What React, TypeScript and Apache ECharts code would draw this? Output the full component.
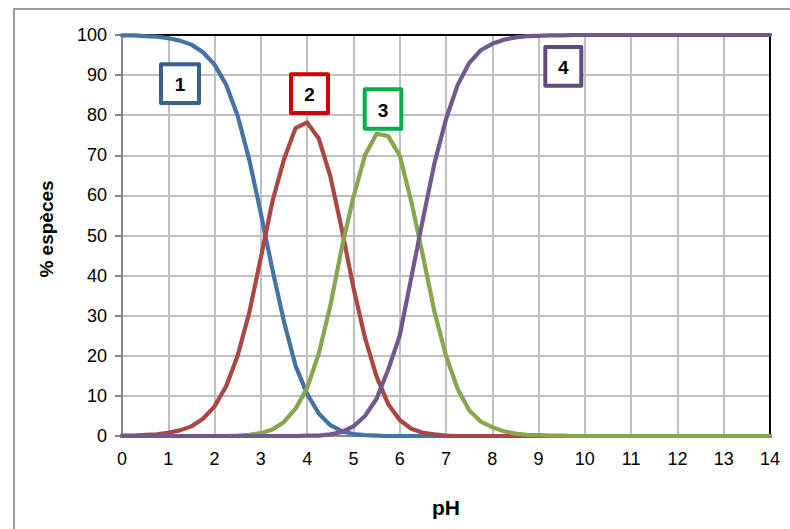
import React, { useEffect, useRef } from "react";
import * as echarts from "echarts";

const pH: number[] = [
  0, 0.25, 0.5, 0.75, 1, 1.25, 1.5, 1.75, 2, 2.25, 2.5, 2.75, 3, 3.25, 3.5, 3.75,
  4, 4.25, 4.5, 4.75, 5, 5.25, 5.5, 5.75, 6, 6.25, 6.5, 6.75, 7, 7.25, 7.5, 7.75,
  8, 8.25, 8.5, 8.75, 9, 9.25, 9.5, 9.75, 10, 10.25, 10.5, 10.75, 11, 11.25, 11.5,
  11.75, 12, 12.25, 12.5, 12.75, 13, 13.25, 13.5, 13.75, 14,
];

const species1: number[] = [
  99.9, 99.9, 99.7, 99.6, 99.2, 98.6, 97.6, 95.7, 92.6, 87.6, 79.8, 68.9, 55.5,
  41.5, 28.5, 17.5, 10.5, 5.6, 2.7, 1.2, 0.5, 0.2, 0.1, 0, 0, 0, 0, 0, 0, 0, 0, 0,
  0, 0, 0, 0, 0, 0, 0, 0, 0, 0, 0, 0, 0, 0, 0, 0, 0, 0, 0, 0, 0, 0, 0, 0, 0,
];

const species2: number[] = [
  0.1, 0.1, 0.3, 0.4, 0.8, 1.4, 2.4, 4.3, 7.4, 12.4, 20.1, 30.8, 44.5, 58.5, 69.0,
  76.8, 78.2, 74.2, 64.8, 51.5, 37.0, 24.5, 14.8, 8.0, 4.0, 1.8, 0.8, 0.4, 0.1, 0,
  0, 0, 0, 0, 0, 0, 0, 0, 0, 0, 0, 0, 0, 0, 0, 0, 0, 0, 0, 0, 0, 0, 0, 0, 0, 0, 0,
];

const species3: number[] = [
  0, 0, 0, 0, 0, 0, 0, 0, 0, 0, 0.1, 0.3, 0.7, 1.6, 3.5, 6.8, 12.0, 20.5, 32.4,
  47.0, 59.6, 70.0, 75.4, 74.8, 70.0, 58.5, 45.0, 31.0, 20.0, 11.8, 6.4, 3.6, 2.2,
  1.2, 0.6, 0.3, 0.2, 0.1, 0.1, 0, 0, 0, 0, 0, 0, 0, 0, 0, 0, 0, 0, 0, 0, 0, 0, 0, 0,
];

const species4: number[] = [
  0, 0, 0, 0, 0, 0, 0, 0, 0, 0, 0, 0, 0, 0, 0, 0, 0.1, 0.1, 0.4, 1.0, 2.4, 5.0,
  9.3, 16.5, 25.0, 39.5, 54.0, 68.0, 79.0, 87.5, 93.0, 96.2, 97.8, 98.8, 99.4,
  99.7, 99.8, 99.9, 99.9, 100, 100, 100, 100, 100, 100, 100, 100, 100, 100, 100,
  100, 100, 100, 100, 100, 100, 100,
];

const seriesNames: string[] = ["1", "2", "3", "4"];
const seriesColors: string[] = ["#4572A7", "#AA4643", "#89A54E", "#71588F"];
const boxColors: string[] = ["#3B5F8F", "#CC0000", "#00B050", "#604A7B"];
const xTicks = { min: 0, max: 14, interval: 1 };
const yTicks = { min: 0, max: 100, interval: 10 };
const xTitle = "pH";
const yTitle = "% espèces";

const FONT = "'Liberation Sans', Arial, sans-serif";

export default function App() {
  const ref = useRef<HTMLDivElement>(null);
  useEffect(() => {
    if (!ref.current) return;
    const chart = echarts.init(ref.current, null, { renderer: "svg" });
    const allSeries = [species1, species2, species3, species4];
    const boxes = [
      { x: 161, y: 64.3, w: 38, h: 38.7 },
      { x: 291, y: 74.3, w: 37, h: 38.7 },
      { x: 364.7, y: 89.3, w: 36.6, h: 39.4 },
      { x: 545.3, y: 47, w: 36, h: 38.7 },
    ];
    chart.setOption({
      animation: false,
      backgroundColor: "#ffffff",
      grid: { left: 122, top: 35, right: 20, bottom: 93 },
      xAxis: [
        {
          type: "value",
          min: xTicks.min,
          max: xTicks.max,
          interval: xTicks.interval,
          name: xTitle,
          nameLocation: "middle",
          nameGap: 61,
          nameTextStyle: { fontFamily: FONT, fontSize: 21, fontWeight: "bold", color: "#000" },
          axisLine: { show: true, onZero: false, lineStyle: { color: "#868686", width: 2 } },
          axisTick: { show: false },
          axisLabel: { fontFamily: FONT, fontSize: 18, color: "#000", margin: 14 },
          splitLine: { show: true, lineStyle: { color: "#C0C0C0", width: 2 } },
        },
        {
          type: "value",
          position: "top",
          min: xTicks.min,
          max: xTicks.max,
          interval: xTicks.interval,
          axisLine: { show: true, onZero: false, lineStyle: { color: "#000", width: 2 } },
          axisTick: { show: false },
          axisLabel: { show: false },
          splitLine: { show: false },
        },
      ],
      yAxis: [
        {
          type: "value",
          min: yTicks.min,
          max: yTicks.max,
          interval: yTicks.interval,
          axisLine: { show: true, onZero: false, lineStyle: { color: "#868686", width: 2 } },
          axisTick: { show: true, length: 7, lineStyle: { color: "#868686", width: 2 } },
          axisLabel: { fontFamily: FONT, fontSize: 18, color: "#000", margin: 15 },
          splitLine: { show: true, lineStyle: { color: "#C0C0C0", width: 2 } },
        },
        {
          type: "value",
          position: "right",
          min: yTicks.min,
          max: yTicks.max,
          interval: yTicks.interval,
          axisLine: { show: true, onZero: false, lineStyle: { color: "#000", width: 2 } },
          axisTick: { show: false },
          axisLabel: { show: false },
          splitLine: { show: false },
        },
      ],
      series: allSeries.map((s, i) => ({
        name: seriesNames[i],
        type: "line",
        xAxisIndex: 0,
        yAxisIndex: 0,
        data: s.map((v, j) => [pH[j], v]),
        showSymbol: false,
        smooth: false,
        z: 3 + i,
        lineStyle: { color: seriesColors[i], width: 4.2, join: "round", cap: "round" },
        itemStyle: { color: seriesColors[i] },
      })),
      graphic: [
        {
          type: "rect",
          shape: { x: 14, y: 9, width: 800, height: 600 },
          style: { fill: "none", stroke: "#9A9A9A", lineWidth: 2 },
          silent: true,
          z: 0,
        },
        {
          type: "text",
          x: 46,
          y: 229,
          rotation: Math.PI / 2,
          z: 10,
          style: {
            text: yTitle,
            fill: "#000",
            font: `bold 19px ${FONT}`,
            align: "center",
            verticalAlign: "middle",
          },
        },
        ...boxes.flatMap((b, i) => [
          {
            type: "rect",
            z: 100,
            shape: { x: b.x, y: b.y, width: b.w, height: b.h },
            style: { fill: "#ffffff", stroke: boxColors[i], lineWidth: 4, lineJoin: "round" },
          },
          {
            type: "text",
            z: 101,
            x: b.x + b.w / 2,
            y: b.y + b.h / 2 + 1,
            style: {
              text: seriesNames[i],
              fill: "#000",
              font: `bold 19px ${FONT}`,
              align: "center",
              verticalAlign: "middle",
            },
          },
        ]),
      ],
    });
    return () => chart.dispose();
  }, []);
  return (
    <div
      ref={ref}
      style={{ position: "fixed", left: 0, top: 0, width: 790, height: 529, background: "#fff" }}
    />
  );
}
